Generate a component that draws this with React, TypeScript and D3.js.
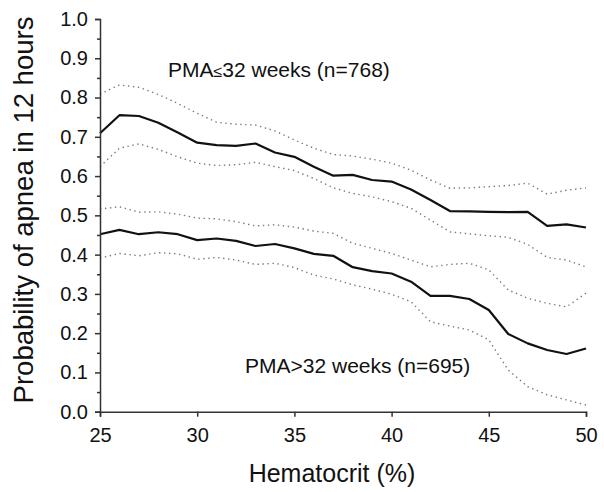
import React, { useEffect, useRef } from "react";
import * as d3 from "d3";

const hematocrit = [25, 26, 27, 28, 29, 30, 31, 32, 33, 34, 35, 36, 37, 38, 39, 40, 41, 42, 43, 44, 45, 46, 47, 48, 49, 50];

const lowPmaMean = [0.709, 0.755, 0.753, 0.736, 0.711, 0.685, 0.679, 0.677, 0.683, 0.660, 0.649, 0.624, 0.601, 0.603, 0.590, 0.586, 0.566, 0.539, 0.511, 0.510, 0.509, 0.508, 0.509, 0.473, 0.477, 0.469];
const lowPmaUpper = [0.809, 0.832, 0.826, 0.808, 0.785, 0.760, 0.737, 0.732, 0.730, 0.715, 0.692, 0.671, 0.655, 0.651, 0.643, 0.633, 0.615, 0.590, 0.569, 0.570, 0.573, 0.576, 0.582, 0.554, 0.564, 0.570];
const lowPmaLower = [0.624, 0.671, 0.682, 0.668, 0.649, 0.633, 0.627, 0.629, 0.635, 0.624, 0.614, 0.594, 0.570, 0.556, 0.547, 0.535, 0.518, 0.488, 0.458, 0.453, 0.448, 0.444, 0.426, 0.393, 0.386, 0.369];

const highPmaMean = [0.452, 0.463, 0.452, 0.457, 0.452, 0.437, 0.441, 0.435, 0.422, 0.427, 0.416, 0.402, 0.397, 0.368, 0.358, 0.352, 0.331, 0.295, 0.295, 0.287, 0.259, 0.198, 0.174, 0.157, 0.147, 0.161];
const highPmaUpper = [0.516, 0.522, 0.508, 0.509, 0.503, 0.493, 0.491, 0.484, 0.473, 0.476, 0.470, 0.460, 0.454, 0.429, 0.416, 0.403, 0.386, 0.369, 0.375, 0.378, 0.361, 0.310, 0.289, 0.276, 0.267, 0.302];
const highPmaLower = [0.391, 0.403, 0.397, 0.405, 0.402, 0.388, 0.393, 0.386, 0.375, 0.378, 0.367, 0.348, 0.338, 0.323, 0.312, 0.299, 0.280, 0.229, 0.218, 0.208, 0.183, 0.106, 0.064, 0.043, 0.030, 0.017];

const xTicks = [25, 30, 35, 40, 45, 50];
const yTicks = [0, 0.1, 0.2, 0.3, 0.4, 0.5, 0.6, 0.7, 0.8, 0.9, 1.0];
const yMinorTicks = [0.05, 0.15, 0.25, 0.35, 0.45, 0.55, 0.65, 0.75, 0.85, 0.95];

const W = 604;
const H = 492;
const margin = { left: 100, right: 18, top: 19, bottom: 80 };
const FONT = "'Liberation Sans', Arial, sans-serif";
const AXIS_COLOR = "#333";

export default function App() {
  const ref = useRef<SVGSVGElement | null>(null);

  useEffect(() => {
    const svg = d3.select(ref.current);
    svg.selectAll("*").remove();

    const x = d3.scaleLinear().domain([25, 50]).range([margin.left, W - margin.right]);
    const y = d3.scaleLinear().domain([0, 1]).range([H - margin.bottom - 0.3, margin.top]);

    const line = (vals: number[]) =>
      d3.line<number>().x((_, i) => x(hematocrit[i])).y((d) => y(d))(vals) as string;

    const g = svg.append("g");

    const dotted = [lowPmaUpper, lowPmaLower, highPmaUpper, highPmaLower];
    dotted.forEach((vals) => {
      g.append("path")
        .attr("d", line(vals))
        .attr("fill", "none")
        .attr("stroke", "#7a7a7a")
        .attr("stroke-width", 1.4)
        .attr("stroke-dasharray", "1.4,3.6");
    });
    [lowPmaMean, highPmaMean].forEach((vals) => {
      g.append("path")
        .attr("d", line(vals))
        .attr("fill", "none")
        .attr("stroke", "#111")
        .attr("stroke-width", 2.2)
        .attr("stroke-linejoin", "round");
    });

    // X axis
    const xAxis = d3.axisBottom(x).tickValues(xTicks).tickSize(5).tickPadding(11).tickFormat(d3.format("d"));
    const xg = svg.append("g").attr("transform", `translate(0,${y(0)})`).call(xAxis);
    xg.select(".domain").attr("stroke", AXIS_COLOR).attr("stroke-width", 1.5);
    xg.selectAll(".tick line").attr("stroke", AXIS_COLOR).attr("stroke-width", 1.5);
    xg.selectAll(".tick text").attr("font-family", FONT).attr("font-size", 20).attr("fill", "#111");

    // Y axis
    const yAxis = d3.axisLeft(y).tickValues(yTicks).tickSize(5).tickPadding(7).tickFormat(d3.format(".1f"));
    const yg = svg.append("g").attr("transform", `translate(${x(25)},0)`).call(yAxis);
    yg.select(".domain").attr("stroke", AXIS_COLOR).attr("stroke-width", 1.5);
    yg.selectAll(".tick line").attr("stroke", AXIS_COLOR).attr("stroke-width", 1.5);
    yg.selectAll(".tick text").attr("font-family", FONT).attr("font-size", 20).attr("fill", "#111");

    const yMinor = d3.axisLeft(y).tickValues(yMinorTicks).tickSize(3).tickFormat(() => "");
    const ymg = svg.append("g").attr("transform", `translate(${x(25)},0)`).call(yMinor);
    ymg.select(".domain").remove();
    ymg.selectAll(".tick line").attr("stroke", AXIS_COLOR).attr("stroke-width", 1.5);

    // Axis titles
    svg.append("text")
      .attr("x", 332)
      .attr("y", 482)
      .attr("text-anchor", "middle")
      .attr("font-family", FONT)
      .attr("font-size", 25)
      .attr("fill", "#111")
      .text("Hematocrit (%)");

    svg.append("text")
      .attr("transform", `translate(33,210) rotate(-90)`)
      .attr("text-anchor", "middle")
      .attr("font-family", FONT)
      .attr("font-size", 27.5)
      .attr("fill", "#111")
      .text("Probability of apnea in 12 hours");

    // Annotations
    const a1 = svg.append("text")
      .attr("x", 168)
      .attr("y", 77)
      .attr("font-family", FONT)
      .attr("font-size", 21)
      .attr("fill", "#111");
    a1.append("tspan").text("PMA");
    a1.append("tspan").attr("font-size", 16).text("≤");
    a1.append("tspan").text("32 weeks (n=768)");

    svg.append("text")
      .attr("x", 245)
      .attr("y", 373)
      .attr("font-family", FONT)
      .attr("font-size", 21)
      .attr("fill", "#111")
      .text("PMA>32 weeks (n=695)");
  }, []);

  return (
    <svg
      ref={ref}
      width={W}
      height={H}
      style={{ position: "absolute", left: 0, top: 0, background: "#fff" }}
    />
  );
}
